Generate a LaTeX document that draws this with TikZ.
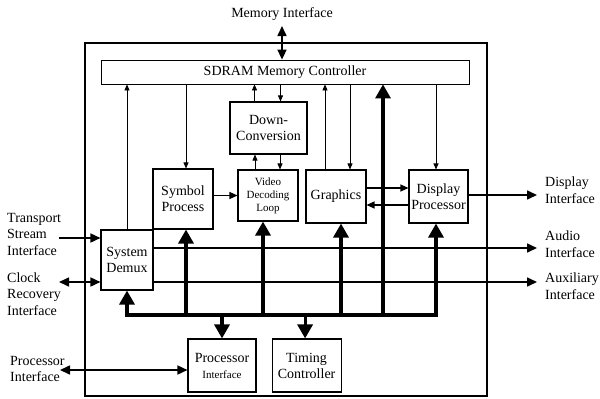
\documentclass[tikz,border=0pt]{standalone}
\usepackage{fontspec}
\setmainfont{Liberation Serif}
\usetikzlibrary{arrows.meta, positioning, calc}

\begin{document}
\begin{tikzpicture}[
    x=1pt, y=-1pt,
    % ── Node styles ──────────────────────────────────────────────────────
    block/.style={
        draw, line width=1.1pt, inner sep=0pt, align=center,
        font=\fontsize{14}{16}\selectfont
    },
    smallblock/.style={
        block, font=\fontsize{11}{13}\selectfont
    },
    chipbox/.style={
        draw, line width=2.4pt, inner sep=0pt
    },
    extlabel/.style={
        align=left, inner sep=0pt,
        font=\fontsize{14}{16.5}\selectfont
    },
    % ── Arrow styles ─────────────────────────────────────────────────────
    thinarr/.style={
        -{Triangle[length=6pt, width=5pt]}, line width=0.8pt
    },
    midarr/.style={
        -{Triangle[length=8pt, width=7pt]}, line width=1.2pt
    },
    extarr/.style={
        -{Triangle[length=10pt, width=9pt]}, line width=1.6pt
    },
    dblarr/.style={
        {Triangle[length=10pt, width=9pt]}-{Triangle[length=10pt, width=9pt]},
        line width=1.6pt
    },
    busline/.style={line width=3.2pt},
    busarr/.style={
        busline, -{Triangle[length=14pt, width=15pt]}
    }
]
\useasboundingbox (0,0) rectangle (600,399);

% ═══════════════════════════════════════════════════════════════════════════
% 1. Chip outline and memory controller
% ═══════════════════════════════════════════════════════════════════════════
\node[chipbox, minimum width=402pt, minimum height=353pt] (chip) at (286,219.5) {};

\node[block, line width=0.8pt, minimum width=368pt, minimum height=24pt] (sdram)
    at (285,72) {SDRAM Memory Controller};

\node[extlabel] (memlabel) at (282,14) {Memory Interface};
\coordinate (memif) at (282,26);
\draw[dblarr] (memif) -- (memif |- sdram.north);

% ═══════════════════════════════════════════════════════════════════════════
% 2. Processing blocks
% ═══════════════════════════════════════════════════════════════════════════
\node[block, minimum width=77pt, minimum height=52pt] (downconv)
    at (268.5,128) {Down-\\Conversion};
\node[smallblock, minimum width=60pt, minimum height=51pt] (vdl)
    at (268,195.5) {Video\\Decoding\\Loop};
\node[block, minimum width=60pt, minimum height=60pt] (symbol)
    at (183,199) {Symbol\\Process};
\node[block, minimum width=60pt, minimum height=53pt] (graphics)
    at (336,196.5) {Graphics};
\node[block, minimum width=59pt, minimum height=53pt] (display)
    at (438.5,196.5) {Display\\Processor};
\node[block, minimum width=52pt, minimum height=60pt] (demux)
    at (127,260) {System\\Demux};
\node[block, minimum width=68pt, minimum height=53pt] (procif)
    at (222,365.5) {Processor\\{\fontsize{11}{13}\selectfont Interface}};
\node[block, minimum width=69pt, minimum height=53pt, right=15pt of procif] (timing)
    {Timing\\Controller};

% Memory controller links
\draw[thinarr] (demux.north) -- (demux.north |- sdram.south);
\draw[thinarr] ([xshift=3pt]symbol.north |- sdram.south) -- ([xshift=3pt]symbol.north);
\draw[thinarr] ([xshift=-14pt]downconv.north) -- ([xshift=-14pt]downconv.north |- sdram.south);
\draw[thinarr] ([xshift=12pt]downconv.north |- sdram.south) -- ([xshift=12pt]downconv.north);
\draw[thinarr] ([xshift=-13pt]vdl.north) -- ([xshift=-13pt]vdl.north |- downconv.south);
\draw[thinarr] ([xshift=12pt]vdl.north |- downconv.south) -- ([xshift=12pt]vdl.north);
\draw[thinarr] ([xshift=-11pt]graphics.north) -- ([xshift=-11pt]graphics.north |- sdram.south);
\draw[thinarr] ([xshift=14pt]graphics.north |- sdram.south) -- ([xshift=14pt]graphics.north);
\draw[thinarr] ([xshift=-2.5pt]display.north |- sdram.south) -- ([xshift=-2.5pt]display.north);

% Block to block
\draw[midarr] (symbol.east |- vdl) -- (vdl.west);
\draw[midarr] ([yshift=8.5pt]graphics.east) -- ([yshift=8.5pt]display.west);
\draw[midarr] ([yshift=-8.5pt]display.west) -- ([yshift=-8.5pt]graphics.east);

% ═══════════════════════════════════════════════════════════════════════════
% 3. Internal bus
% ═══════════════════════════════════════════════════════════════════════════
\coordinate (bus) at (0,315);
\coordinate (trunk) at (383,315);

\draw[busline, {Triangle[length=14pt, width=15pt]}-{Triangle[length=14pt, width=15pt]}]
    (demux.south) |- ([xshift=-2.5pt]display.south |- bus) -- ([xshift=-2.5pt]display.south);
\draw[busarr] ([xshift=3pt]symbol.south |- bus) -- ([xshift=3pt]symbol.south);
\draw[busarr] ([xshift=-5pt]vdl.south |- bus) -- ([xshift=-5pt]vdl.south);
\draw[busarr] ([xshift=5pt]graphics.south |- bus) -- ([xshift=5pt]graphics.south);
\draw[busarr] (trunk) -- (trunk |- sdram.south);
\draw[busarr] (procif.north |- bus) -- (procif.north);
\draw[busarr] ([xshift=-1.5pt]timing.north |- bus) -- ([xshift=-1.5pt]timing.north);

% ═══════════════════════════════════════════════════════════════════════════
% 4. External interfaces
% ═══════════════════════════════════════════════════════════════════════════
\node[extlabel, anchor=west] (tslabel) at (7,234) {Transport\\Stream\\Interface};
\node[extlabel, anchor=west] (clklabel) at (7,294) {Clock\\Recovery\\Interface};
\node[extlabel, anchor=west] (piflabel) at (10,369) {Processor\\Interface};
\node[extlabel, anchor=west] (displabel) at (545,190) {Display\\Interface};
\node[extlabel, anchor=west] (audlabel) at (545,244) {Audio\\Interface};
\node[extlabel, anchor=west] (auxlabel) at (545,286) {Auxiliary\\Interface};

\coordinate (tsin) at (59,238);
\coordinate (clk) at (59,282);
\coordinate (pif) at (60,370);
\coordinate (dispif) at (537,195);
\coordinate (audio) at (537,248);
\coordinate (aux) at (537,282);

\draw[extarr] (tsin) -- (tsin -| demux.west);
\draw[dblarr] (clk) -- (clk -| demux.west);
\draw[dblarr] (pif) -- (pif -| procif.west);
\draw[extarr] (display.east |- dispif) -- (dispif);
\draw[extarr] (demux.east |- audio) -- (audio);
\draw[extarr] (demux.east |- aux) -- (aux);

\end{tikzpicture}
\end{document}
